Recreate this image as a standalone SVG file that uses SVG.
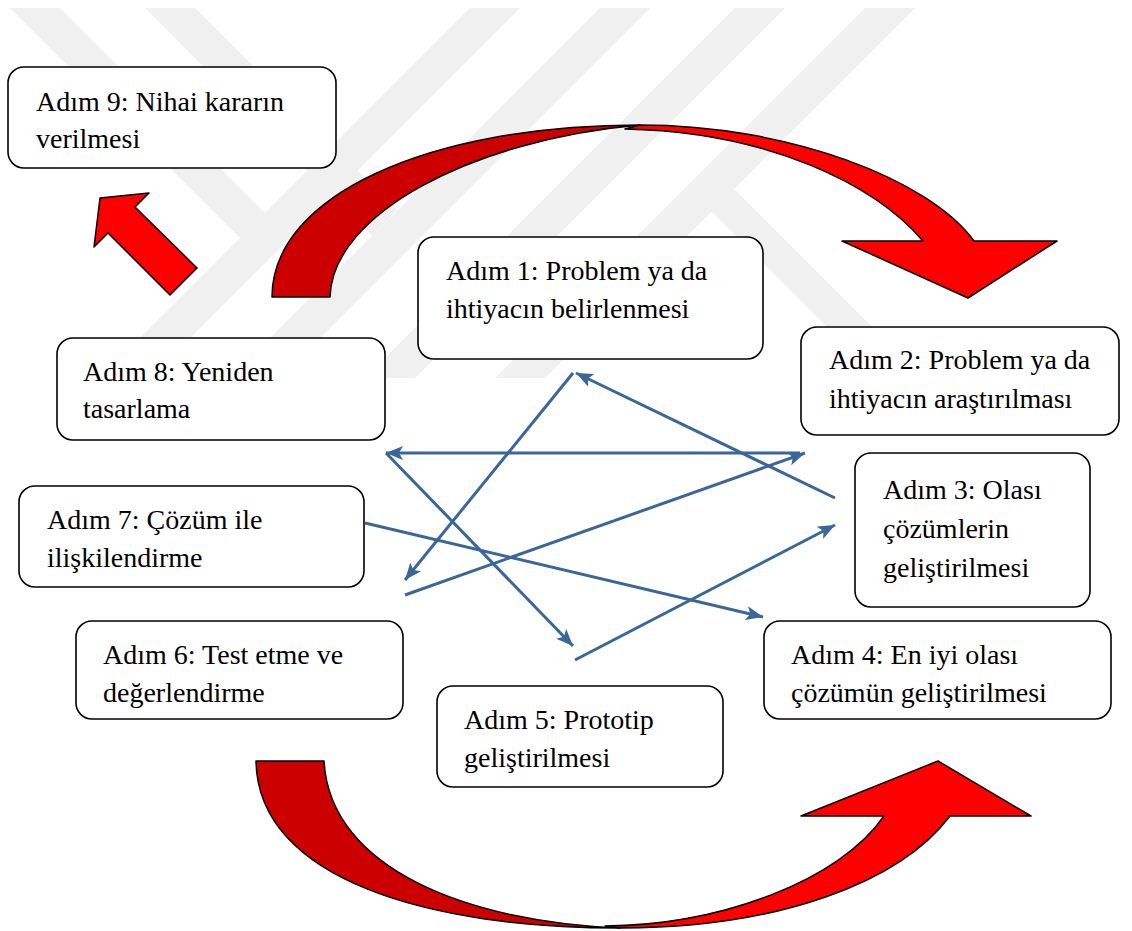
<svg xmlns="http://www.w3.org/2000/svg" width="1132" height="931" viewBox="0 0 1132 931">
<style>
.box{fill:#fff;stroke:#000;stroke-width:1.6}
.t{font-family:"Liberation Serif","Times New Roman",serif;font-size:28px;fill:#000}
.wm{fill:#f0f0f0}
.dk{fill:#cc0000;stroke:#000;stroke-width:1.5;stroke-linejoin:round}
.br{fill:#ff0000;stroke:#000;stroke-width:1.5;stroke-linejoin:round}
.cn{stroke:#3a6699;stroke-width:3;fill:none}
</style>
<defs>
<marker id="ah" markerUnits="userSpaceOnUse" markerWidth="18" markerHeight="16" refX="17" refY="8" orient="auto">
<path d="M0,1 L17,8 L0,15 L4,8 Z" fill="#3a6699"/>
</marker>
<clipPath id="wmclip"><rect x="0" y="8" width="1132" height="370"/></clipPath>
</defs>
<rect width="1132" height="931" fill="#fff"/>
<g id="watermark" clip-path="url(#wmclip)">
<polygon class="wm" points="10,8 60,8 265,213 240,238"/>
<polygon class="wm" points="145,8 195,8 397,210 372,236"/>
<polygon class="wm" points="470,8 520,8 150,378 100,378"/>
<polygon class="wm" points="600,8 650,8 280,378 230,378"/>
<polygon class="wm" points="735,8 785,8 415,378 365,378"/>
<polygon class="wm" points="865,8 915,8 545,378 495,378"/>
<polygon class="wm" points="690,190 735,190 925,380 880,380"/>
</g>
<g id="arrows">
<path class="dk" d="M272,297 C272,195 430,125 640,125 C470,140 332,215 330,297 Z"/>
<path class="br" d="M625,129 C770,132 875,185 923,241 L842,241 L968,298 L1057,241 L974,241 C930,180 790,125 640,125 Z"/>
<path class="dk" d="M256,761 C258,880 430,928 620,928 C470,922 330,870 324,761 Z"/>
<path class="br" d="M605,926 C722,925 840,880 884,816 L801,816 L938,761 L1031,816 L950,816 C900,882 780,928 620,928 Z"/>
<polygon class="br" points="100,198 149,193 135,207 197,268 170,295 108,233 94,247"/>
</g>
<g id="connectors">
<line class="cn" x1="573" y1="373" x2="405" y2="580" marker-end="url(#ah)"/>
<line class="cn" x1="835" y1="498" x2="576" y2="373" marker-end="url(#ah)"/>
<line class="cn" x1="800" y1="453" x2="386" y2="453" marker-end="url(#ah)"/>
<line class="cn" x1="405" y1="595" x2="805" y2="453" marker-end="url(#ah)"/>
<line class="cn" x1="386" y1="453" x2="573" y2="646" marker-end="url(#ah)"/>
<line class="cn" x1="365" y1="523" x2="763" y2="617" marker-end="url(#ah)"/>
<line class="cn" x1="575" y1="660" x2="835" y2="525" marker-end="url(#ah)"/>
</g>
<g id="step9"><rect class="box" x="8" y="67" width="328" height="101" rx="16"/>
<text class="t" x="36" y="111">Adım 9: Nihai kararın</text><text class="t" x="36" y="148">verilmesi</text></g>
<g id="step1"><rect class="box" x="418" y="237" width="345" height="122" rx="16"/>
<text class="t" x="446" y="280">Adım 1: Problem ya da</text><text class="t" x="446" y="318">ihtiyacın belirlenmesi</text></g>
<g id="step2"><rect class="box" x="801" y="327" width="318" height="108" rx="16"/>
<text class="t" x="829" y="369">Adım 2: Problem ya da</text><text class="t" x="829" y="408">ihtiyacın araştırılması</text></g>
<g id="step8"><rect class="box" x="57" y="338" width="328" height="102" rx="16"/>
<text class="t" x="83" y="381">Adım 8: Yeniden</text><text class="t" x="83" y="418">tasarlama</text></g>
<g id="step3"><rect class="box" x="855" y="453" width="235" height="154" rx="16"/>
<text class="t" x="883" y="499">Adım 3: Olası</text><text class="t" x="883" y="538">çözümlerin</text><text class="t" x="883" y="577">geliştirilmesi</text></g>
<g id="step7"><rect class="box" x="19" y="486" width="345" height="101" rx="16"/>
<text class="t" x="47" y="529">Adım 7: Çözüm ile</text><text class="t" x="47" y="567">ilişkilendirme</text></g>
<g id="step6"><rect class="box" x="76" y="621" width="327" height="98" rx="16"/>
<text class="t" x="103" y="664">Adım 6: Test etme ve</text><text class="t" x="103" y="702">değerlendirme</text></g>
<g id="step4"><rect class="box" x="764" y="621" width="347" height="98" rx="16"/>
<text class="t" x="791" y="664">Adım 4: En iyi olası</text><text class="t" x="791" y="702">çözümün geliştirilmesi</text></g>
<g id="step5"><rect class="box" x="437" y="686" width="286" height="101" rx="16"/>
<text class="t" x="464" y="729">Adım 5: Prototip</text><text class="t" x="464" y="767">geliştirilmesi</text></g>
</svg>
